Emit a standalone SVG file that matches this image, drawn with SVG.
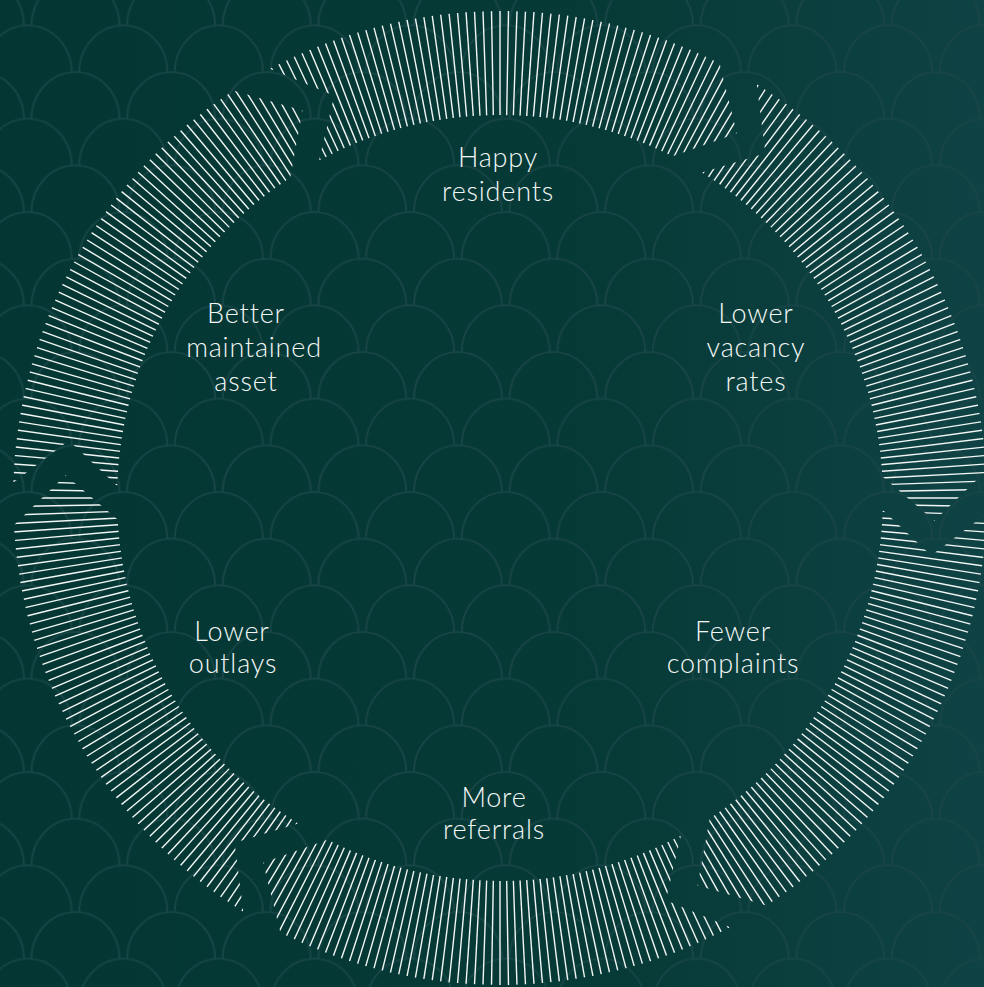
<svg xmlns="http://www.w3.org/2000/svg" xmlns:xlink="http://www.w3.org/1999/xlink" width="984" height="987" viewBox="0 0 984 987">
<defs>
<style>
.lbl{font-family:"Lato","Liberation Sans",sans-serif;font-weight:300;font-size:27px;fill:#f3f7f6;text-anchor:middle;letter-spacing:0.8px}
.hl{stroke:#f2f6f5;stroke-width:1.4}
.sc{fill:none;stroke:#184547;stroke-width:1.8}
</style>
<linearGradient id="bg" x1="0" y1="0" x2="1" y2="0">
<stop offset="0" stop-color="#043733"/>
<stop offset="0.6" stop-color="#063a36"/>
<stop offset="1" stop-color="#0f4244"/>
</linearGradient>
<pattern id="scales" patternUnits="userSpaceOnUse" x="27.7" y="62" width="95.6" height="93.33">
<path class="sc" d="M3.8 56.67A44 46.67 0 0 1 91.8 56.67"/>
<path class="sc" d="M-44 103.33A44 46.67 0 0 1 44 103.33"/>
<path class="sc" d="M51.6 103.33A44 46.67 0 0 1 139.6 103.33"/>
<path class="sc" d="M-44 10A44 46.67 0 0 1 44 10"/>
<path class="sc" d="M51.6 10A44 46.67 0 0 1 139.6 10"/>
</pattern>
<clipPath id="ringclip">
<path d="M986.76 513.30A487 487 0 0 1 766.66 905.50L697.49 885.59L709.72 818.48A383 383 0 0 0 882.81 510.03L931.18 555.53Z"/>
<path transform="rotate(60 500 498)" d="M986.76 513.30A487 487 0 0 1 766.66 905.50L697.49 885.59L709.72 818.48A383 383 0 0 0 882.81 510.03L931.18 555.53Z"/>
<path transform="rotate(120 500 498)" d="M986.76 513.30A487 487 0 0 1 766.66 905.50L697.49 885.59L709.72 818.48A383 383 0 0 0 882.81 510.03L931.18 555.53Z"/>
<path transform="rotate(180 500 498)" d="M986.76 513.30A487 487 0 0 1 766.66 905.50L697.49 885.59L709.72 818.48A383 383 0 0 0 882.81 510.03L931.18 555.53Z"/>
<path transform="rotate(240 500 498)" d="M986.76 513.30A487 487 0 0 1 766.66 905.50L697.49 885.59L709.72 818.48A383 383 0 0 0 882.81 510.03L931.18 555.53Z"/>
<path transform="rotate(300 500 498)" d="M986.76 513.30A487 487 0 0 1 766.66 905.50L697.49 885.59L709.72 818.48A383 383 0 0 0 882.81 510.03L931.18 555.53Z"/>
</clipPath>
<line id="r0" class="hl" x1="500" y1="4" x2="500" y2="122"/>
<g id="r10">
<use xlink:href="#r0"/>
<use xlink:href="#r0" transform="rotate(1 500 498)"/>
<use xlink:href="#r0" transform="rotate(2 500 498)"/>
<use xlink:href="#r0" transform="rotate(3 500 498)"/>
<use xlink:href="#r0" transform="rotate(4 500 498)"/>
<use xlink:href="#r0" transform="rotate(5 500 498)"/>
<use xlink:href="#r0" transform="rotate(6 500 498)"/>
<use xlink:href="#r0" transform="rotate(7 500 498)"/>
<use xlink:href="#r0" transform="rotate(8 500 498)"/>
<use xlink:href="#r0" transform="rotate(9 500 498)"/>
</g>
<g id="r60">
<use xlink:href="#r10"/>
<use xlink:href="#r10" transform="rotate(10 500 498)"/>
<use xlink:href="#r10" transform="rotate(20 500 498)"/>
<use xlink:href="#r10" transform="rotate(30 500 498)"/>
<use xlink:href="#r10" transform="rotate(40 500 498)"/>
<use xlink:href="#r10" transform="rotate(50 500 498)"/>
</g>
</defs>
<rect width="984" height="987" fill="url(#bg)"/>
<rect width="984" height="987" fill="url(#scales)"/>
<g id="connectors" clip-path="url(#ringclip)">
<use xlink:href="#r60"/>
<use xlink:href="#r60" transform="rotate(60 500 498)"/>
<use xlink:href="#r60" transform="rotate(120 500 498)"/>
<use xlink:href="#r60" transform="rotate(180 500 498)"/>
<use xlink:href="#r60" transform="rotate(240 500 498)"/>
<use xlink:href="#r60" transform="rotate(300 500 498)"/>
</g>
<g id="happy-residents">
<text class="lbl" x="498" y="167">Happy</text>
<text class="lbl" x="498" y="201">residents</text>
</g>
<g id="lower-vacancy-rates">
<text class="lbl" x="756" y="323">Lower</text>
<text class="lbl" x="756" y="357">vacancy</text>
<text class="lbl" x="756" y="391">rates</text>
</g>
<g id="fewer-complaints">
<text class="lbl" x="733" y="641">Fewer</text>
<text class="lbl" x="733" y="673">complaints</text>
</g>
<g id="more-referrals">
<text class="lbl" x="494" y="807">More</text>
<text class="lbl" x="494" y="839">referrals</text>
</g>
<g id="lower-outlays">
<text class="lbl" x="232" y="641">Lower</text>
<text class="lbl" x="233" y="673">outlays</text>
</g>
<g id="better-maintained-asset">
<text class="lbl" x="246" y="323">Better</text>
<text class="lbl" x="254" y="357">maintained</text>
<text class="lbl" x="246" y="391">asset</text>
</g>
</svg>
